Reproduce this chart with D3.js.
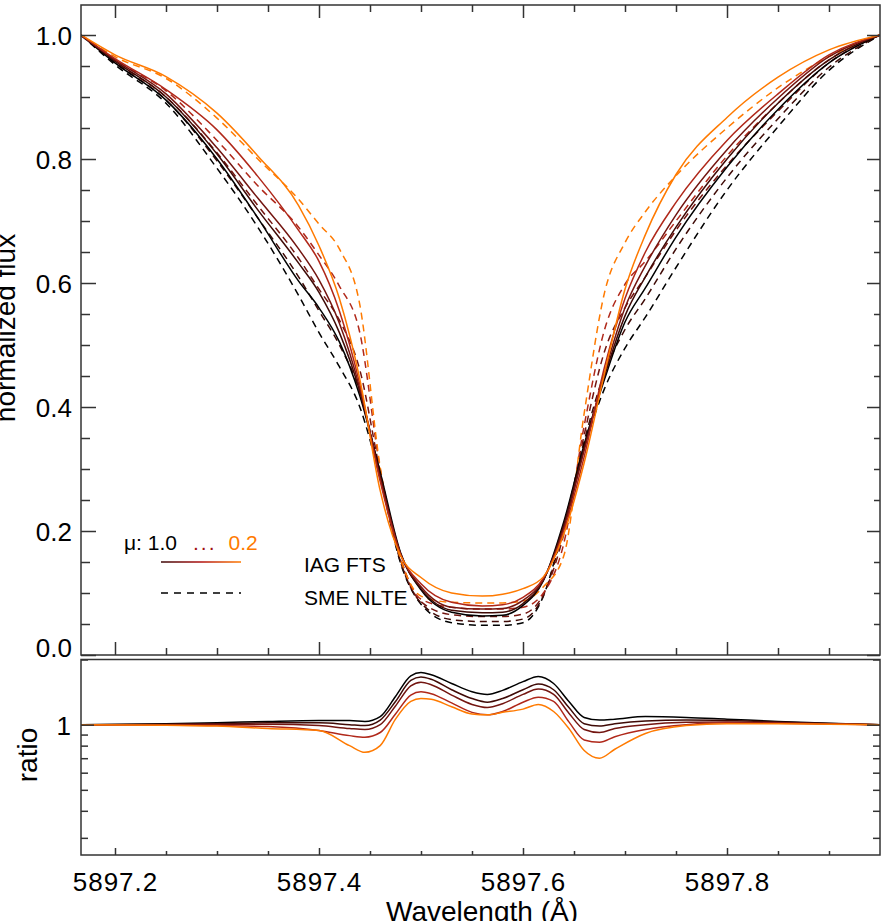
<!DOCTYPE html>
<html><head><meta charset="utf-8">
<script src="https://cdn.jsdelivr.net/npm/d3@7"></script>
<style>
body{margin:0;background:#fff}
svg{display:block}
text{font-family:"Liberation Sans",Arial,Helvetica,sans-serif;fill:#000}
</style>
</head><body><svg id="c" width="886" height="921"></svg>
<script>
// ---------------- data ----------------
const muLabels = ["1.0","0.8","0.6","0.4","0.2"];
const colors = ["#000000","#3f0a06","#731510","#b0281a","#ff7a00"];

const wavelength = [5897.1667,5897.20,5897.25,5897.30,5897.34,5897.38,5897.40,5897.42,5897.44,5897.46,5897.48,5897.50,5897.53,5897.56,5897.58,5897.60,5897.62,5897.64,5897.66,5897.68,5897.70,5897.72,5897.75,5897.80,5897.85,5897.90,5897.95];

// IAG FTS observed profiles (solid)
const iag10 = [1.0,.955,.895,.80,.705,.603,.56,.505,.418,.295,.165,.105,.069,.063,.064,.08,.12,.215,.34,.445,.537,.592,.674,.787,.88,.955,1.0];
const iag08 = [1.0,.958,.90,.808,.718,.632,.585,.52,.425,.29,.163,.107,.072,.068,.069,.083,.121,.21,.335,.45,.547,.61,.69,.80,.89,.96,1.0];
const iag06 = [1.0,.96,.905,.818,.737,.655,.605,.535,.43,.285,.163,.11,.077,.074,.075,.088,.122,.205,.33,.455,.56,.628,.71,.815,.898,.965,1.0];
const iag04 = [1.0,.962,.912,.847,.772,.685,.635,.555,.437,.28,.162,.115,.085,.079,.081,.093,.124,.20,.32,.465,.575,.65,.73,.83,.905,.968,1.0];
const iag02 = [1.0,.968,.933,.874,.805,.725,.66,.575,.445,.265,.16,.125,.10,.095,.098,.107,.126,.195,.31,.455,.59,.678,.775,.867,.932,.976,1.0];

// SME NLTE synthetic profiles (dashed)
const sme10 = [1.0,.952,.89,.785,.69,.58,.52,.465,.40,.285,.148,.082,.052,.048,.048,.052,.095,.21,.335,.43,.495,.545,.625,.75,.852,.943,1.0];
const sme08 = [1.0,.955,.895,.797,.705,.61,.555,.50,.425,.29,.15,.084,.057,.054,.054,.058,.096,.205,.345,.455,.525,.575,.655,.77,.865,.948,1.0];
const sme06 = [1.0,.957,.90,.81,.725,.64,.59,.54,.46,.295,.153,.086,.065,.062,.062,.066,.098,.195,.355,.49,.56,.61,.685,.79,.877,.955,1.0];
const sme04 = [1.0,.96,.91,.83,.757,.69,.645,.595,.52,.30,.157,.09,.077,.074,.074,.077,.10,.18,.37,.525,.598,.635,.70,.805,.89,.96,1.0];
const sme02 = [1.0,.965,.93,.866,.80,.735,.695,.655,.565,.303,.155,.095,.085,.084,.084,.087,.11,.16,.39,.585,.665,.715,.773,.85,.915,.965,1.0];

// ratio panel
const ratioWave = [5897.1667,5897.25,5897.30,5897.35,5897.40,5897.43,5897.445,5897.46,5897.475,5897.49,5897.50,5897.51,5897.53,5897.55,5897.565,5897.58,5897.60,5897.615,5897.63,5897.645,5897.66,5897.675,5897.69,5897.72,5897.76,5897.80,5897.85,5897.90,5897.95];
const ratio10 = [1.00,1.01,1.02,1.035,1.045,1.045,1.035,1.09,1.35,1.68,1.74,1.70,1.55,1.42,1.38,1.44,1.58,1.67,1.55,1.28,1.08,1.05,1.06,1.09,1.08,1.06,1.035,1.015,1.00];
const ratio08 = [1.00,1.005,1.01,1.02,1.02,1.0,0.99,1.05,1.28,1.60,1.66,1.62,1.45,1.32,1.27,1.32,1.45,1.54,1.45,1.20,1.01,0.985,1.01,1.04,1.05,1.045,1.03,1.012,1.00];
const ratio06 = [1.00,1.0,1.005,1.005,0.99,0.96,0.95,1.0,1.22,1.51,1.57,1.53,1.37,1.24,1.20,1.25,1.38,1.46,1.38,1.13,0.95,0.92,0.96,1.0,1.025,1.03,1.02,1.01,1.00];
const ratio04 = [1.00,0.995,0.99,0.98,0.94,0.89,0.875,0.92,1.12,1.37,1.42,1.39,1.26,1.14,1.11,1.15,1.27,1.34,1.28,1.03,0.85,0.83,0.88,0.95,1.0,1.02,1.015,1.008,1.00];
const ratio02 = [1.00,0.995,0.985,0.96,0.94,0.80,0.745,0.80,1.06,1.28,1.32,1.31,1.21,1.12,1.11,1.14,1.18,1.24,1.15,0.96,0.76,0.70,0.77,0.91,0.99,1.01,1.01,1.005,1.00];

const xMajor = [5897.2,5897.4,5897.6,5897.8];
const xMinor = [5897.25,5897.3,5897.35,5897.45,5897.5,5897.55,5897.65,5897.7,5897.75,5897.85,5897.9];
const fluxMajor = [0.0,0.2,0.4,0.6,0.8,1.0];
const fluxMinor = [0.05,0.1,0.15,0.25,0.3,0.35,0.45,0.5,0.55,0.65,0.7,0.75,0.85,0.9,0.95];
const ratioMajor = [1];
const ratioMinor = [0.3,0.4,0.5,0.6,0.7,0.8,0.9,2];

// ---------------- layout ----------------
const svg = d3.select("#c");
const L = 81, R = 880, T1 = 5, B1 = 655, T2 = 659.5, B2 = 855;
const AX = "#333";

const x = d3.scaleLinear().domain([5897.16667, 5897.95]).range([L, R]);
const y1 = d3.scaleLinear().domain([0, 1.0484]).range([B1, T1]);
const y2 = d3.scaleLog().domain([0.25, 2]).range([B2, T2]);

const defs = svg.append("defs");
defs.append("clipPath").attr("id","cp1").append("rect").attr("x",L).attr("y",T1).attr("width",R-L).attr("height",B1-T1);
defs.append("clipPath").attr("id","cp2").append("rect").attr("x",L).attr("y",T2).attr("width",R-L).attr("height",B2-T2);
const grad = defs.append("linearGradient").attr("id","lg").attr("gradientUnits","userSpaceOnUse").attr("x1",161).attr("x2",241).attr("y1",0).attr("y2",0);
grad.append("stop").attr("offset","0%").attr("stop-color","#3a0606");
grad.append("stop").attr("offset","50%").attr("stop-color","#b01010");
grad.append("stop").attr("offset","100%").attr("stop-color","#ff7a00");

// ---------------- curves ----------------
const iag = [iag10,iag08,iag06,iag04,iag02];
const sme = [sme10,sme08,sme06,sme04,sme02];
const ratios = [ratio10,ratio08,ratio06,ratio04,ratio02];

const line1 = d3.line().x(d=>x(d[0])).y(d=>y1(d[1])).curve(d3.curveMonotoneX);
const line2 = d3.line().x(d=>x(d[0])).y(d=>y2(d[1])).curve(d3.curveMonotoneX);

const g1 = svg.append("g").attr("clip-path","url(#cp1)");
sme.forEach((s,i)=>{
  g1.append("path").datum(wavelength.map((w,j)=>[w,s[j]]))
    .attr("d",line1).attr("fill","none").attr("stroke",colors[i])
    .attr("stroke-width",1.5).attr("stroke-dasharray","7,5");
});
iag.forEach((s,i)=>{
  g1.append("path").datum(wavelength.map((w,j)=>[w,s[j]]))
    .attr("d",line1).attr("fill","none").attr("stroke",colors[i])
    .attr("stroke-width",1.5);
});

const g2 = svg.append("g").attr("clip-path","url(#cp2)");
ratios.forEach((s,i)=>{
  g2.append("path").datum(ratioWave.map((w,j)=>[w,s[j]]))
    .attr("d",line2).attr("fill","none").attr("stroke",colors[i])
    .attr("stroke-width",1.5);
});

// ---------------- axes ----------------
function styleAxis(g){
  g.select(".domain").remove();
  g.selectAll(".tick line").attr("stroke",AX).attr("stroke-width",1.5);
  g.selectAll("text").attr("font-size",26).attr("font-family","'Liberation Sans',Arial,sans-serif").attr("fill","#000");
}
// top panel
svg.append("g").attr("transform",`translate(0,${B1})`).call(d3.axisBottom(x).tickValues(xMajor).tickSize(-13).tickFormat("")).call(styleAxis);
svg.append("g").attr("transform",`translate(0,${B1})`).call(d3.axisBottom(x).tickValues(xMinor).tickSize(-7).tickFormat("")).call(styleAxis);
svg.append("g").attr("transform",`translate(0,${T1})`).call(d3.axisTop(x).tickValues(xMajor).tickSize(-13).tickFormat("")).call(styleAxis);
svg.append("g").attr("transform",`translate(0,${T1})`).call(d3.axisTop(x).tickValues(xMinor).tickSize(-7).tickFormat("")).call(styleAxis);
const ya = svg.append("g").attr("transform",`translate(${L},0)`).call(d3.axisLeft(y1).tickValues(fluxMajor).tickSize(-15).tickPadding(9).tickFormat(d3.format(".1f"))).call(styleAxis);
ya.selectAll("text").attr("dy","0.36em");
ya.selectAll(".tick").filter(d=>d===0).select("text").attr("dy","0.05em");
svg.append("g").attr("transform",`translate(${L},0)`).call(d3.axisLeft(y1).tickValues(fluxMinor).tickSize(-9).tickFormat("")).call(styleAxis);
svg.append("g").attr("transform",`translate(${R},0)`).call(d3.axisRight(y1).tickValues(fluxMajor).tickSize(-13).tickFormat("")).call(styleAxis);
svg.append("g").attr("transform",`translate(${R},0)`).call(d3.axisRight(y1).tickValues(fluxMinor).tickSize(-6).tickFormat("")).call(styleAxis);

// bottom panel
const xb = svg.append("g").attr("transform",`translate(0,${B2})`).call(d3.axisBottom(x).tickValues(xMajor).tickSize(-7).tickPadding(18).tickFormat(d3.format(".1f"))).call(styleAxis);
xb.selectAll("text").attr("dy","0.71em").attr("letter-spacing","1px");
svg.append("g").attr("transform",`translate(0,${B2})`).call(d3.axisBottom(x).tickValues(xMinor).tickSize(-4).tickFormat("")).call(styleAxis);
const yb = svg.append("g").attr("transform",`translate(${L},0)`).call(d3.axisLeft(y2).tickValues(ratioMajor).tickSize(-13).tickPadding(10).tickFormat(d3.format("d"))).call(styleAxis);
yb.selectAll("text").attr("dy","0.36em");
svg.append("g").attr("transform",`translate(${L},0)`).call(d3.axisLeft(y2).tickValues(ratioMinor).tickSize(-7).tickFormat("")).call(styleAxis);
svg.append("g").attr("transform",`translate(${R},0)`).call(d3.axisRight(y2).tickValues(ratioMajor).tickSize(-13).tickFormat("")).call(styleAxis);
svg.append("g").attr("transform",`translate(${R},0)`).call(d3.axisRight(y2).tickValues(ratioMinor).tickSize(-7).tickFormat("")).call(styleAxis);

// frames
svg.append("rect").attr("x",L).attr("y",T1).attr("width",R-L).attr("height",B1-T1).attr("fill","none").attr("stroke",AX).attr("stroke-width",1.5);
svg.append("rect").attr("x",L).attr("y",T2).attr("width",R-L).attr("height",B2-T2).attr("fill","none").attr("stroke",AX).attr("stroke-width",1.5);

// axis titles
svg.append("text").attr("transform","translate(15,328) rotate(-90)").attr("text-anchor","middle").attr("font-size",28).text("normalized flux");
svg.append("text").attr("transform","translate(37,755) rotate(-90)").attr("text-anchor","middle").attr("font-size",28).text("ratio");
svg.append("text").attr("x",482).attr("y",921).attr("text-anchor","middle").attr("font-size",28).text("Wavelength (Å)");

// ---------------- legend ----------------
const lg = svg.append("text").attr("x",124).attr("y",550).attr("font-size",21);
lg.append("tspan").text("μ: 1.0");
lg.append("tspan").attr("fill","#a01010").attr("dx",16).attr("letter-spacing","2px").text("...");
lg.append("tspan").attr("fill","#ff7a00").attr("dx",12).text("0.2");
svg.append("line").attr("x1",161).attr("x2",241).attr("y1",562).attr("y2",562).attr("stroke","url(#lg)").attr("stroke-width",1.6);
svg.append("line").attr("x1",161).attr("x2",241).attr("y1",593).attr("y2",593).attr("stroke","#000").attr("stroke-width",1.4).attr("stroke-dasharray","7,6");
svg.append("text").attr("x",304).attr("y",572).attr("font-size",21).text("IAG FTS");
svg.append("text").attr("x",304).attr("y",605).attr("font-size",21).text("SME NLTE");
</script></body></html>
